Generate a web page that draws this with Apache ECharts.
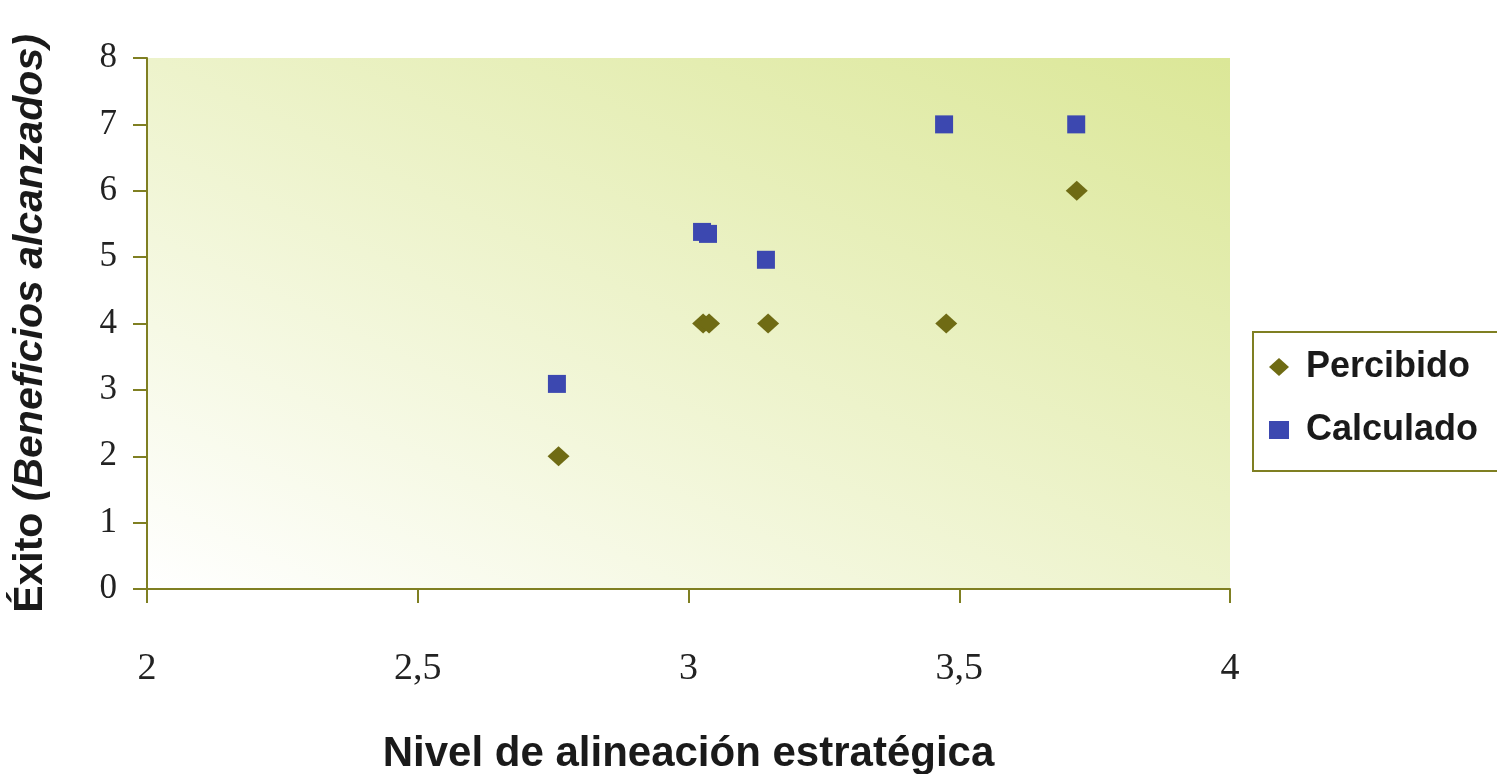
<!DOCTYPE html>
<html><head><meta charset="utf-8">
<script src="https://cdn.jsdelivr.net/npm/echarts@6/dist/echarts.min.js"></script>
<style>html,body{margin:0;padding:0;background:#fff}#c{width:1497px;height:774px}</style>
</head><body><div id="c"></div>
<script>
const percibidoX = [2.76, 3.027, 3.038, 3.147, 3.476, 3.717];
const percibidoY = [2, 4, 4, 4, 4, 6];
const calculadoX = [2.757, 3.025, 3.036, 3.143, 3.472, 3.716];
const calculadoY = [3.09, 5.38, 5.35, 4.96, 7, 7];
const xTicks = [2, 2.5, 3, 3.5, 4];
const yTicks = [0, 1, 2, 3, 4, 5, 6, 7, 8];

const chart = echarts.init(document.getElementById('c'));
const axisCol = '#7f7f22';
chart.setOption({
  animation: false,
  grid: {
    left: 147, top: 58, right: 267, bottom: 185, show: true, borderWidth: 0,
    outerBoundsMode: 'none', containLabel: false,
    backgroundColor: new echarts.graphic.LinearGradient(0.306, 1.306, 0.694, -0.306, [
      {offset: 0, color: '#ffffff'},
      {offset: 1, color: '#dbe797'}
    ])
  },
  xAxis: {
    type: 'value', min: 2, max: 4, interval: 0.5,
    axisLine: {show: true, onZero: false, lineStyle: {color: axisCol, width: 2}},
    axisTick: {show: true, length: 14, lineStyle: {color: axisCol, width: 2}},
    splitLine: {show: false},
    axisLabel: {margin: 61, fontFamily: 'Liberation Serif', fontSize: 38, color: '#222',
      formatter: v => String(v).replace('.', ',')},
    name: 'Nivel de alineación estratégica', nameLocation: 'middle', nameGap: 144,
    nameTextStyle: {fontFamily: 'Liberation Sans', fontWeight: 'bold', fontSize: 42, color: '#1a1a1a'}
  },
  yAxis: {
    type: 'value', min: 0, max: 8, interval: 1,
    axisLine: {show: true, onZero: false, lineStyle: {color: axisCol, width: 2}},
    axisTick: {show: true, length: 14, lineStyle: {color: axisCol, width: 2}},
    splitLine: {show: false},
    axisLabel: {margin: 30, fontFamily: 'Liberation Serif', fontSize: 35, color: '#222'},
    name: '{b|Éxito }{i|(Beneficios alcanzados)}', nameLocation: 'middle', nameGap: 96, nameRotate: 90,
    nameTextStyle: {
      rich: {
        b: {fontFamily: 'Liberation Sans', fontWeight: 'bold', fontSize: 41, color: '#1a1a1a'},
        i: {fontFamily: 'Liberation Sans', fontWeight: 'bold', fontStyle: 'italic', fontSize: 41, color: '#1a1a1a'}
      }
    }
  },
  legend: {
    orient: 'vertical', left: 1253, top: 332,
    padding: [17, 80, 23, 16], itemGap: 27,
    borderColor: axisCol, borderWidth: 2, backgroundColor: '#fff',
    itemWidth: 20, itemHeight: 18,
    textStyle: {fontFamily: 'Liberation Sans', fontWeight: 'bold', fontSize: 36, color: '#1a1a1a',
      padding: [0, 0, 0, 12]},
    data: [{name: 'Percibido', icon: 'diamond'}, {name: 'Calculado', icon: 'rect'}]
  },
  series: [
    {name: 'Percibido', type: 'scatter', symbol: 'diamond', symbolSize: [22, 20],
      itemStyle: {color: '#6f6b14', opacity: 1},
      data: percibidoX.map((x, i) => [x, percibidoY[i]])},
    {name: 'Calculado', type: 'scatter', symbol: 'rect', symbolSize: 18,
      itemStyle: {color: '#3c48b0', opacity: 1},
      data: calculadoX.map((x, i) => [x, calculadoY[i]])}
  ]
});
</script></body></html>
